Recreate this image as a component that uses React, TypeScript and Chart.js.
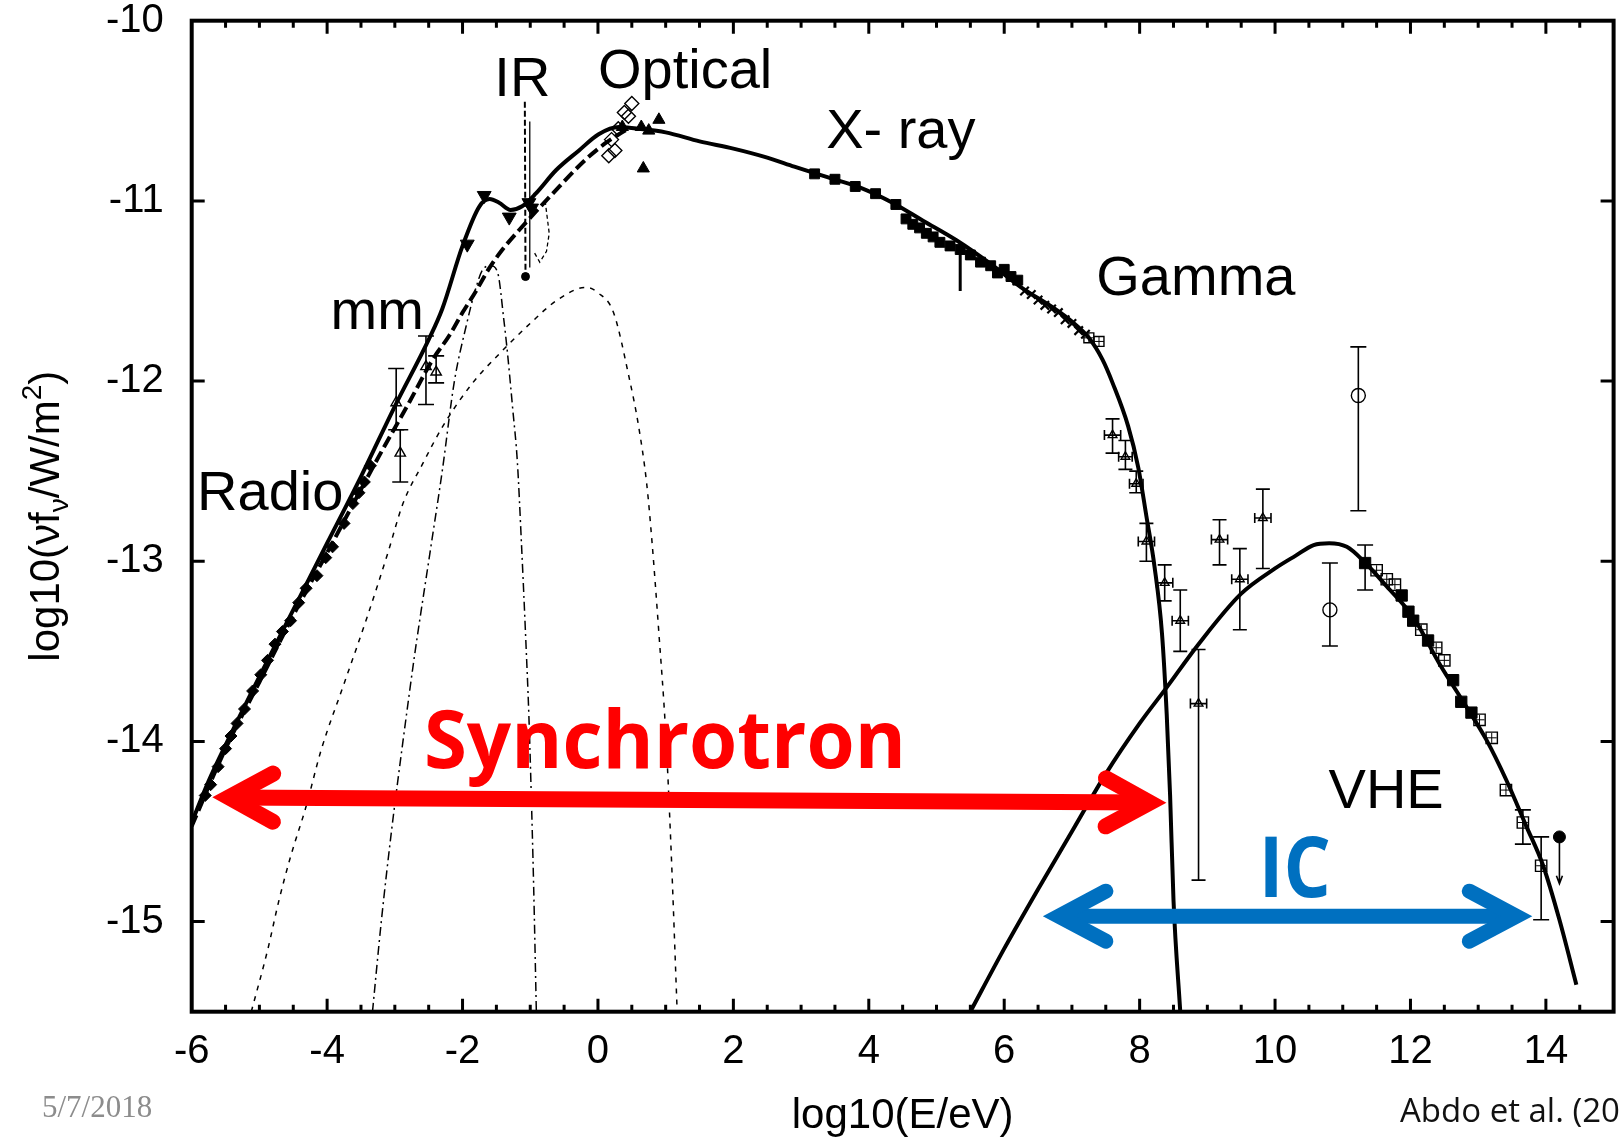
import React, { useEffect, useRef } from "react";
import { Chart, registerables } from "chart.js";

Chart.register(...registerables);

// ---------- axes ----------
const X_MIN = -6;
const X_MAX = 15;
const Y_MIN = -15.5;
const Y_MAX = -10;
const xTickValues = [-6, -4, -2, 0, 2, 4, 6, 8, 10, 12, 14];
const yTickValues = [-15, -14, -13, -12, -11, -10];
const xMinorStep = 0.5;
const xTitle = "log10(E/eV)";

// ---------- model curves ----------
// total synchrotron model (solid)
const syncX = [-6.0, -5.75, -5.5, -5.0, -4.5, -4.0, -3.5, -3.0, -2.5, -2.3, -2.0, -1.75, -1.6, -1.46, -1.29, -1.12, -0.92, -0.62, -0.28, 0.01, 0.31, 0.6, 1.0, 1.5, 2.0, 2.5, 2.9, 3.4, 3.9, 4.35, 4.8, 5.3, 5.8, 6.25, 6.75, 7.0, 7.25, 7.45, 7.6, 7.83, 7.98, 8.1, 8.22, 8.33, 8.4, 8.45, 8.5, 8.6];
const syncY = [-14.45, -14.22, -14.02, -13.64, -13.27, -12.9, -12.53, -12.14, -11.77, -11.6, -11.25, -11.03, -10.99, -11.01, -11.05, -11.03, -10.96, -10.83, -10.72, -10.63, -10.59, -10.6, -10.62, -10.67, -10.71, -10.76, -10.81, -10.87, -10.93, -11.01, -11.11, -11.22, -11.35, -11.48, -11.6, -11.67, -11.76, -11.88, -12.01, -12.25, -12.48, -12.75, -13.03, -13.4, -13.85, -14.3, -14.88, -15.5];
// second model (thick dashed)
const sync2X = [-6.0, -5.5, -5.0, -4.5, -3.91, -3.67, -3.18, -2.79, -2.44, -2.2, -2.0, -1.8, -1.6, -1.41, -1.16, -0.67, -0.18, 0.11, 0.31, 0.45];
const sync2Y = [-14.47, -14.04, -13.67, -13.3, -12.89, -12.72, -12.38, -12.12, -11.88, -11.75, -11.62, -11.5, -11.37, -11.27, -11.16, -10.96, -10.77, -10.68, -10.63, -10.6];
// narrow component (thin dash-dot)
const narrowX = [-3.33, -3.2, -3.05, -2.88, -2.7, -2.5, -2.3, -2.12, -1.95, -1.8, -1.7, -1.58, -1.48, -1.39, -1.34, -1.26, -1.19, -1.13, -1.07, -1.02, -0.99, -0.95, -0.91];
const narrowY = [-15.5, -15.0, -14.5, -14.0, -13.5, -13.0, -12.5, -12.0, -11.7, -11.48, -11.38, -11.36, -11.4, -11.66, -11.83, -12.15, -12.45, -12.9, -13.4, -13.86, -14.23, -14.8, -15.5];
// broad component (thin dotted)
const broadX = [-5.12, -4.88, -4.71, -4.54, -4.31, -4.09, -3.75, -3.4, -3.1, -2.88, -2.59, -2.29, -1.85, -1.46, -1.0, -0.6, -0.18, 0.0, 0.23, 0.46, 0.6, 0.72, 0.8, 0.9, 1.0, 1.08, 1.17];
const broadY = [-15.5, -15.16, -14.88, -14.64, -14.36, -14.05, -13.68, -13.3, -12.95, -12.68, -12.46, -12.25, -12.01, -11.85, -11.68, -11.55, -11.48, -11.51, -11.62, -11.98, -12.25, -12.57, -12.9, -13.4, -13.95, -14.6, -15.5];
// inverse Compton model (solid)
const icX = [5.5, 6.0, 6.5, 7.0, 7.5, 8.0, 8.4, 8.85, 9.5, 10.0, 10.3, 10.57, 10.8, 11.06, 11.31, 11.65, 12.04, 12.43, 12.83, 13.12, 13.41, 13.71, 13.96, 14.2, 14.45];
const icY = [-15.5, -15.15, -14.82, -14.5, -14.18, -13.9, -13.7, -13.47, -13.18, -13.04, -12.97, -12.91, -12.9, -12.92, -13.0, -13.14, -13.31, -13.57, -13.81, -13.99, -14.21, -14.47, -14.69, -14.99, -15.35];

// ---------- data ----------
const radioX = [-5.8, -5.72, -5.61, -5.5, -5.42, -5.33, -5.22, -5.1, -4.98, -4.88, -4.77, -4.66, -4.54, -4.42, -4.31, -4.15, -4.02, -3.92, -3.75, -3.62, -3.53, -3.45, -3.36];
const radioY = [-14.3, -14.24, -14.14, -14.04, -13.97, -13.9, -13.82, -13.72, -13.63, -13.55, -13.46, -13.39, -13.33, -13.23, -13.15, -13.08, -12.98, -12.92, -12.79, -12.68, -12.62, -12.56, -12.47];

const mmX = [-2.98, -2.92, -2.54, -2.39];
const mmY = [-12.12, -12.4, -11.92, -11.95];
const mmLo = [-12.27, -12.56, -12.13, -12.01];
const mmHi = [-11.93, -12.27, -11.75, -11.86];

const irX = [-1.93, -1.68, -1.31, -1.02, -0.98];
const irY = [-11.24, -10.97, -11.09, -11.01, -11.04];
const irLimitX = [-1.08, -1.07];
const irLimitY = [-10.45, -11.42];
const irBarX = [-1.007, -1.007];
const irBarY = [-10.56, -11.37];
const irBowX = [-0.78, -0.72, -0.76, -0.86, -0.95];
const irBowY = [-11.0, -11.18, -11.28, -11.34, -11.28];

const optOpenX = [0.16, 0.2, 0.25, 0.3, 0.39, 0.45, 0.5];
const optOpenY = [-10.75, -10.66, -10.72, -10.6, -10.51, -10.53, -10.46];
const optFillX = [0.36, 0.64, 0.75, 0.9, 0.67];
const optFillY = [-10.59, -10.59, -10.61, -10.55, -10.82];

const xrayX = [3.2, 3.5, 3.8, 4.1, 4.4, 4.55, 4.65, 4.75, 4.85, 4.95, 5.05, 5.2, 5.35, 5.5, 5.65, 5.8, 5.9, 6.0, 6.1, 6.2];
const xrayY = [-10.85, -10.88, -10.92, -10.96, -11.02, -11.1, -11.13, -11.15, -11.18, -11.2, -11.23, -11.25, -11.27, -11.3, -11.34, -11.36, -11.4, -11.38, -11.42, -11.44];
const xrayCrossX = [6.3, 6.4, 6.5, 6.6, 6.7, 6.8, 6.9, 7.0, 7.1, 7.2];
const xrayCrossY = [-11.5, -11.52, -11.55, -11.58, -11.6, -11.62, -11.66, -11.68, -11.72, -11.74];
const xrayOpenX = [7.25, 7.4];
const xrayOpenY = [-11.76, -11.78];
const xraySpikeX = [5.35];
const xraySpikeLo = [-11.5];
const xraySpikeHi = [-11.23];

const fermiX = [7.6, 7.79, 7.95, 8.1, 8.37, 8.6, 8.87, 9.18, 9.48, 9.82];
const fermiY = [-12.3, -12.42, -12.57, -12.89, -13.12, -13.33, -13.79, -12.88, -13.1, -12.76];
const fermiLo = [-12.4, -12.49, -12.62, -13.0, -13.22, -13.5, -14.77, -13.02, -13.38, -13.04];
const fermiHi = [-12.21, -12.33, -12.5, -12.79, -13.02, -13.16, -13.49, -12.77, -12.93, -12.6];
const fermiHalfBin = [0.12, 0.1, 0.1, 0.12, 0.12, 0.12, 0.12, 0.12, 0.12, 0.12];

const circX = [10.81, 11.23];
const circY = [-13.27, -12.08];
const circLo = [-13.47, -12.72];
const circHi = [-13.01, -11.81];

const vheFillX = [11.33, 11.87, 11.97, 12.04, 12.26, 12.63, 12.75, 12.9];
const vheFillY = [-13.01, -13.19, -13.28, -13.33, -13.44, -13.66, -13.78, -13.84];
const vheOpenX = [11.5, 11.65, 11.77, 12.16, 12.38, 12.5, 13.02, 13.2, 13.41, 13.66, 13.93];
const vheOpenY = [-13.05, -13.1, -13.13, -13.38, -13.48, -13.55, -13.88, -13.98, -14.27, -14.45, -14.69];
const vheErrX = [11.33, 13.66, 13.93];
const vheErrLo = [-13.16, -14.57, -14.99];
const vheErrHi = [-12.91, -14.38, -14.53];
const ulX = [14.2];
const ulY = [-14.53];
const ulEnd = [-14.79];

// ---------- annotations ----------
const annLabels = ["IR", "Optical", "X- ray", "Gamma", "mm", "Radio", "VHE"];
const annX = [-1.53, 0.0, 3.37, 7.36, -3.95, -5.92, 10.79];
const annY = [-10.418, -10.373, -10.706, -11.52, -11.71, -12.715, -14.37];
const synLabel = "Synchrotron";
const synLabelX = [-2.57];
const synLabelY = [-14.148];
const icLabel = "IC";
const icLabelX = [9.76];
const icLabelY = [-14.861];
const redArrowX = [-5.7, 8.4];
const redArrowY = [-14.31, -14.34];
const blueArrowX = [6.57, 13.8];
const blueArrowY = [-14.97, -14.97];
const dateText = "5/7/2018";
const citeText = "Abdo et al. (20";

// ---------- layout constants ----------
const W = 1623;
const H = 1137;
const AREA_LEFT = 191.7;
const AREA_TOP = 20.7;
const AREA_RIGHT = 1618;
const AREA_BOTTOM = 1011.7;

const pts = (xs: number[], ys: number[]) => xs.map((x, i) => ({ x, y: ys[i] }));

const curve = (data: any, width: number, dash: number[], extra: any = {}) => ({
  type: "line",
  data,
  borderColor: "#000",
  borderWidth: width,
  borderDash: dash,
  pointRadius: 0,
  fill: false,
  cubicInterpolationMode: "monotone",
  ...extra,
});

const marks = (data: any, style: string, r: number, filled: boolean, extra: any = {}) => ({
  type: "scatter",
  data,
  showLine: false,
  pointStyle: style,
  pointRadius: r,
  pointBorderColor: "#000",
  pointBackgroundColor: filled ? "#000" : "rgba(0,0,0,0)",
  pointBorderWidth: filled ? 1 : 1.4,
  ...extra,
});

function drawArrow(ctx: any, x1: number, y1: number, x2: number, y2: number, color: string, lw: number, armDx: number, armDy: number, inset: number) {
  const ang = Math.atan2(y2 - y1, x2 - x1);
  const c = Math.cos(ang);
  const s = Math.sin(ang);
  const ax1 = x1 + inset * c, ay1 = y1 + inset * s;
  const ax2 = x2 - inset * c, ay2 = y2 - inset * s;
  ctx.save();
  ctx.strokeStyle = color;
  ctx.lineWidth = lw;
  ctx.lineCap = "butt";
  ctx.beginPath();
  ctx.moveTo(ax1, ay1);
  ctx.lineTo(ax2, ay2);
  ctx.stroke();
  ctx.lineCap = "round";
  ctx.lineJoin = "miter";
  ctx.miterLimit = 10;
  const head = (ax: number, ay: number, dir: number) => {
    const cc = Math.cos(dir), ss = Math.sin(dir);
    ctx.beginPath();
    ctx.moveTo(ax + cc * armDx - ss * armDy, ay + ss * armDx + cc * armDy);
    ctx.lineTo(ax, ay);
    ctx.lineTo(ax + cc * armDx + ss * armDy, ay + ss * armDx - cc * armDy);
    ctx.stroke();
  };
  head(ax1, ay1, ang);
  head(ax2, ay2, ang + Math.PI);
  ctx.restore();
}

const overlayPlugin = {
  id: "overlay",
  afterDatasetsDraw(chart: any) {
    const { ctx, scales } = chart;
    const px = (v: number) => scales.x.getPixelForValue(v);
    const py = (v: number) => scales.y.getPixelForValue(v);
    ctx.save();
    ctx.strokeStyle = "#000";
    ctx.lineWidth = 1.6;
    const vbar = (xv: number, lo: number, hi: number, cap: number) => {
      const X = px(xv), Y1 = py(lo), Y2 = py(hi);
      ctx.beginPath();
      ctx.moveTo(X, Y1);
      ctx.lineTo(X, Y2);
      if (cap > 0) {
        ctx.moveTo(X - cap, Y1);
        ctx.lineTo(X + cap, Y1);
        ctx.moveTo(X - cap, Y2);
        ctx.lineTo(X + cap, Y2);
      }
      ctx.stroke();
    };
    const hbar = (xv: number, yv: number, half: number) => {
      const X1 = px(xv - half), X2 = px(xv + half), Y = py(yv);
      ctx.beginPath();
      ctx.moveTo(X1, Y);
      ctx.lineTo(X2, Y);
      ctx.moveTo(X1, Y - 5);
      ctx.lineTo(X1, Y + 5);
      ctx.moveTo(X2, Y - 5);
      ctx.lineTo(X2, Y + 5);
      ctx.stroke();
    };
    mmX.forEach((x, i) => vbar(x, mmLo[i], mmHi[i], 8));
    fermiX.forEach((x, i) => {
      vbar(x, fermiLo[i], fermiHi[i], 7);
      hbar(x, fermiY[i], fermiHalfBin[i]);
    });
    circX.forEach((x, i) => vbar(x, circLo[i], circHi[i], 8));
    vheErrX.forEach((x, i) => vbar(x, vheErrLo[i], vheErrHi[i], 8));
    xraySpikeX.forEach((x, i) => {
      ctx.save();
      ctx.lineWidth = 3;
      vbar(x, xraySpikeLo[i], xraySpikeHi[i], 0);
      ctx.restore();
    });
    // upper limit arrow
    ulX.forEach((x, i) => {
      const X = px(x), Y1 = py(ulY[i]), Y2 = py(ulEnd[i]);
      ctx.beginPath();
      ctx.moveTo(X, Y1);
      ctx.lineTo(X, Y2);
      ctx.moveTo(X - 3, Y2 - 8);
      ctx.lineTo(X, Y2);
      ctx.lineTo(X + 3, Y2 - 8);
      ctx.stroke();
    });
    ctx.restore();
  },
  afterDraw(chart: any) {
    const { ctx, chartArea: a, scales } = chart;
    const px = (v: number) => scales.x.getPixelForValue(v);
    const py = (v: number) => scales.y.getPixelForValue(v);
    ctx.save();
    // frame
    ctx.strokeStyle = "#000";
    ctx.lineWidth = 4;
    ctx.strokeRect(a.left, a.top, a.right - a.left, a.bottom - a.top);
    // ticks
    ctx.lineWidth = 3;
    ctx.beginPath();
    for (let v = X_MIN + xMinorStep; v < X_MAX; v += xMinorStep) {
      const major = xTickValues.indexOf(v) >= 0;
      const len = major ? 13 : 7;
      const X = px(v);
      ctx.moveTo(X, a.bottom);
      ctx.lineTo(X, a.bottom - len);
      ctx.moveTo(X, a.top);
      ctx.lineTo(X, a.top + len);
    }
    yTickValues.forEach((v) => {
      if (v <= Y_MIN || v >= Y_MAX) return;
      const Y = py(v);
      ctx.moveTo(a.left, Y);
      ctx.lineTo(a.left + 13, Y);
      ctx.moveTo(a.right, Y);
      ctx.lineTo(a.right - 13, Y);
    });
    ctx.stroke();

    // annotation labels
    ctx.fillStyle = "#000";
    ctx.textBaseline = "alphabetic";
    ctx.textAlign = "left";
    ctx.font = "56px 'Liberation Sans', Arial, sans-serif";
    annLabels.forEach((t, i) => ctx.fillText(t, px(annX[i]), py(annY[i])));

    // axis titles
    ctx.font = "42px 'Liberation Sans', Arial, sans-serif";
    ctx.textAlign = "center";
    ctx.fillText(xTitle, (a.left + a.right) / 2, 1128);

    // y title with sub/superscripts, rotated
    const parts: any[] = [
      { t: "log10(\u03bdf", size: 42, dy: 0 },
      { t: "\u03bd", size: 28, dy: 9 },
      { t: "/W/m", size: 42, dy: 0 },
      { t: "2", size: 28, dy: -18 },
      { t: ")", size: 42, dy: 0 },
    ];
    let total = 0;
    parts.forEach((p) => {
      ctx.font = `${p.size}px 'Liberation Sans', Arial, sans-serif`;
      p.w = ctx.measureText(p.t).width;
      total += p.w;
    });
    ctx.save();
    ctx.translate(59, (a.top + a.bottom) / 2);
    ctx.rotate(-Math.PI / 2);
    ctx.textAlign = "left";
    let cx = -total / 2;
    parts.forEach((p) => {
      ctx.font = `${p.size}px 'Liberation Sans', Arial, sans-serif`;
      ctx.fillText(p.t, cx, p.dy);
      cx += p.w;
    });
    ctx.restore();

    // footer texts
    ctx.textAlign = "left";
    ctx.fillStyle = "#8c8c8c";
    ctx.font = "31px 'Liberation Serif', 'Times New Roman', serif";
    ctx.fillText(dateText, 42, 1117);
    ctx.fillStyle = "#111";
    ctx.font = "33px 'Open Sans', sans-serif";
    ctx.fillText(citeText, 1400, 1122);

    // arrows
    drawArrow(ctx, px(redArrowX[0]), py(redArrowY[0]), px(redArrowX[1]), py(redArrowY[1]), "#ff0000", 16, 44, 24, 17);
    drawArrow(ctx, px(blueArrowX[0]), py(blueArrowY[0]), px(blueArrowX[1]), py(blueArrowY[1]), "#0070c0", 15, 47, 25, 16);

    // coloured labels
    ctx.textAlign = "left";
    ctx.fillStyle = "#ff0000";
    ctx.font = "bold 80px 'Open Sans', sans-serif";
    ctx.fillText(synLabel, px(synLabelX[0]), py(synLabelY[0]), 482);
    ctx.fillStyle = "#0070c0";
    ctx.font = "bold 84px 'Open Sans', sans-serif";
    ctx.fillText(icLabel, px(icLabelX[0]), py(icLabelY[0]), 72);
    ctx.restore();
  },
};

export default function App() {
  const canvasRef = useRef<HTMLCanvasElement | null>(null);

  useEffect(() => {
    const canvas = canvasRef.current;
    if (!canvas) return;
    const datasets: any[] = [
      curve(pts(syncX, syncY), 4, []),
      curve(pts(sync2X, sync2Y), 4, [12, 5]),
      curve(pts(narrowX, narrowY), 1.5, [9, 4, 2, 4]),
      curve(pts(broadX, broadY), 1.5, [5, 6]),
      curve(pts(icX, icY), 4, []),
      curve(pts(irLimitX, irLimitY), 2, [6, 3], { cubicInterpolationMode: "default", tension: 0 }),
      curve(pts(irBarX, irBarY), 1.3, [], { cubicInterpolationMode: "default", tension: 0 }),
      curve(pts(irBowX, irBowY), 1.3, [4, 3], { cubicInterpolationMode: "default", tension: 0 }),
      marks(pts(radioX, radioY), "rectRot", 6, true),
      marks(pts(mmX, mmY), "triangle", 6, false),
      marks(pts(irX, irY), "triangle", 8, true, { pointRotation: 180 }),
      marks(pts([irLimitX[1]], [irLimitY[1]]), "circle", 4, true),
      marks(pts(optOpenX, optOpenY), "rectRot", 7, false),
      marks(pts(optFillX, optFillY), "triangle", 7, true),
      marks(pts(xrayX, xrayY), "rect", 7, true),
      marks(pts(xrayCrossX, xrayCrossY), "crossRot", 6, false, { pointBorderWidth: 2.2 }),
      marks(pts(xrayOpenX, xrayOpenY), "rect", 7, false),
      marks(pts(xrayOpenX, xrayOpenY), "cross", 5, false, { pointBorderWidth: 1 }),
      marks(pts(fermiX, fermiY), "triangle", 5, false),
      marks(pts(circX, circY), "circle", 7, false),
      marks(pts(vheFillX, vheFillY), "rect", 8, true),
      marks(pts(vheOpenX, vheOpenY), "rect", 8, false),
      marks(pts(vheOpenX, vheOpenY), "cross", 5, false, { pointBorderWidth: 1 }),
      marks(pts(ulX, ulY), "circle", 6, true),
    ];

    const chart = new Chart(canvas, {
      type: "scatter",
      data: { datasets },
      options: {
        animation: false,
        responsive: false,
        devicePixelRatio: 1,
        events: [],
        layout: {
          padding: { left: 0, top: AREA_TOP, right: W - AREA_RIGHT, bottom: 0 },
        },
        plugins: {
          legend: { display: false },
          tooltip: { enabled: false },
          title: { display: false },
        },
        scales: {
          x: {
            type: "linear",
            min: X_MIN,
            max: X_MAX,
            grid: { display: false, drawTicks: false, tickLength: 0 },
            border: { display: false },
            afterBuildTicks: (s: any) => {
              s.ticks = xTickValues.map((v) => ({ value: v }));
            },
            ticks: {
              color: "#000",
              padding: 16,
              maxRotation: 0,
              autoSkip: false,
              font: { family: "'Liberation Sans', Arial, sans-serif", size: 40 },
            },
            afterFit: (s: any) => {
              s.height = H - AREA_BOTTOM;
              s.paddingLeft = 0;
              s.paddingRight = 0;
            },
          },
          y: {
            type: "linear",
            min: Y_MIN,
            max: Y_MAX,
            grid: { display: false, drawTicks: false, tickLength: 0 },
            border: { display: false },
            afterBuildTicks: (s: any) => {
              s.ticks = yTickValues.map((v) => ({ value: v }));
            },
            ticks: {
              color: "#000",
              padding: 28,
              autoSkip: false,
              font: { family: "'Liberation Sans', Arial, sans-serif", size: 40 },
            },
            afterFit: (s: any) => {
              s.width = AREA_LEFT;
              s.paddingTop = 0;
              s.paddingBottom = 0;
            },
          },
        },
      },
      plugins: [overlayPlugin],
    } as any);

    return () => chart.destroy();
  }, []);

  return (
    <div style={{ position: "absolute", left: 0, top: 0, width: W, height: H, background: "#fff" }}>
      <canvas ref={canvasRef} width={W} height={H} style={{ display: "block", width: W, height: H }} />
    </div>
  );
}
